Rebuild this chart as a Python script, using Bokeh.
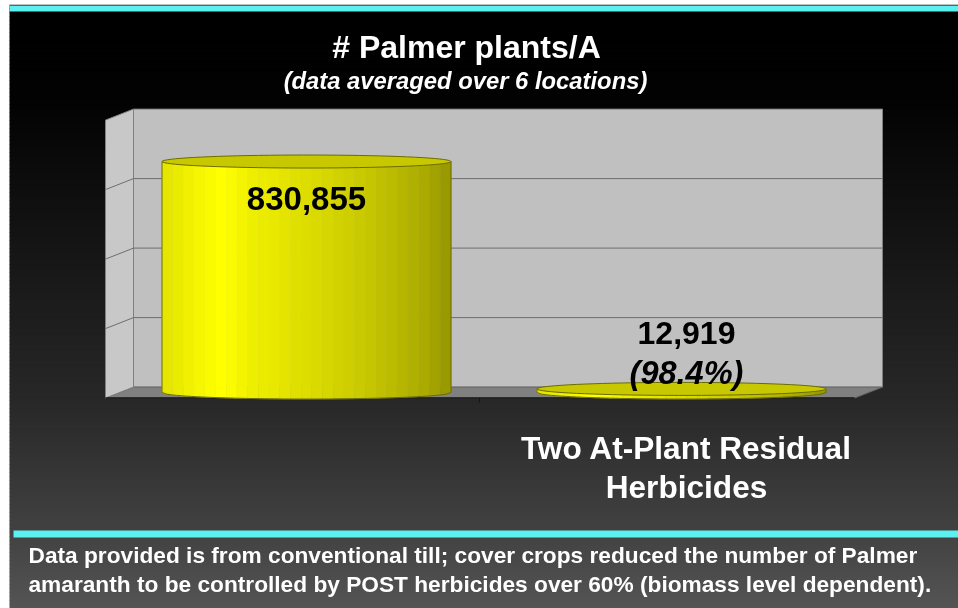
import numpy as np
from bokeh.plotting import figure
from bokeh.models import Range1d
from bokeh.core.properties import value
from bokeh.embed import file_html
from bokeh.resources import INLINE

# ---- data ----
categories = ["", "Two At-Plant Residual\nHerbicides"]
plants = [830855, 12919]
value_labels = ["830,855", "12,919"]
reduction_label = "(98.4%)"
grid_values = [0, 250000, 500000, 750000, 1000000]
title_text = "# Palmer plants/A"
subtitle_text = "(data averaged over 6 locations)"
footer_lines = [
    "Data provided is from conventional till; cover crops reduced the number of Palmer",
    "amaranth to be controlled by POST herbicides over 60% (biomass level dependent).",
]
strip_colors = ["#e6e600", "#ebeb00", "#f0f000", "#f6f600", "#fbfb00", "#ffff00", "#fafa00", "#f4f400",
                "#eeee00", "#ebeb00", "#e8e800", "#e4e400", "#e0e000", "#dddd00", "#dada00", "#d6d600",
                "#d2d200", "#cece00", "#caca00", "#c6c600", "#c0c000", "#bbbb00", "#b6b600", "#b0b000",
                "#aaaa00", "#a2a200", "#999900"]
bg_stops_y = [12, 100, 200, 300, 398, 520, 608]
bg_stops_v = [0, 3, 16, 28, 40, 64, 85]

# ---- layout ----
FIG_X, FIG_Y, W, H = 8, 4, 950, 604
CAT_X0, PX_PER_CAT = 306, 375.0
BASE_Y, PX_PER_VAL = 392, 278 / 1e6
BAR_W_PX, ELL_H = 289, 6.5

X = lambda px: (np.asarray(px, dtype=float) - CAT_X0) / PX_PER_CAT
Y = lambda py: (BASE_Y - np.asarray(py, dtype=float)) / PX_PER_VAL

p = figure(width=W, height=H, toolbar_location=None, output_backend="svg",
           x_range=Range1d(float(X(FIG_X)), float(X(FIG_X + W))),
           y_range=Range1d(float(Y(FIG_Y + H)), float(Y(FIG_Y))),
           min_border=0, outline_line_color=None, x_axis_type=None, y_axis_type=None)
p.grid.visible = False
p.background_fill_color = "#ffffff"
p.border_fill_color = None
p.styles = {"position": "fixed", "left": "8px", "top": "4px"}

# background gradient
rows = np.arange(FIG_Y, FIG_Y + H, 4)
shades = np.interp(rows, bg_stops_y, bg_stops_v).astype(int)
p.quad(left=float(X(9)), right=float(X(FIG_X + W)), top=Y(rows), bottom=Y(rows + 4.5),
       fill_color=["#%02x%02x%02x" % (s, s, s) for s in shades], line_color=None)

# cyan rules
p.quad(left=[float(X(9)), float(X(13))], right=float(X(958)), top=Y([5, 530]), bottom=Y([11, 537]),
       fill_color="#5cf0f0", line_color=None)

# 3-D box
WL, WR, FL, FR = 133, 882, 105, 854
back_y = lambda v: Y(386.6) + np.asarray(v, dtype=float)
front_y = lambda v: Y(397.6) + np.asarray(v, dtype=float)
top_val = grid_values[-1]
p.patch(X([WL, WR, WR, WL]), [back_y(0), back_y(0), back_y(top_val), back_y(top_val)],
        fill_color="#c0c0c0", line_color="#808080", line_width=1)
p.patch(X([FL, FR, WR, WL]), [front_y(0), front_y(0), back_y(0), back_y(0)],
        fill_color="#808080", line_color="#666666", line_width=1)
p.patch(X([FL, WL, WL, FL]), [front_y(0), back_y(0), back_y(top_val), front_y(top_val)],
        fill_color="#c8c8c8", line_color="#808080", line_width=1)
for v in grid_values[1:-1]:
    p.line(X([FL, WL, WR]), [front_y(v), back_y(v), back_y(v)], line_color="#6e6e6e", line_width=1)
p.line(X([FL, FR]), [front_y(0), front_y(0)], line_color="#141414", line_width=1.5)
p.line(X([479, 479]), [front_y(0), Y(402)], line_color="#141414", line_width=1)

# cylinders
half_w = BAR_W_PX / 2 / PX_PER_CAT
ell_v = ELL_H / PX_PER_VAL
t = np.linspace(0, 2 * np.pi, 80)
for i, v in enumerate(plants):
    edges = np.linspace(-1, 1, len(strip_colors) + 1)
    for c, a, b in zip(strip_colors, edges[:-1], edges[1:]):
        u = np.linspace(a, b, 6)
        low = -ell_v * np.sqrt(np.clip(1 - u ** 2, 0, 1))
        p.patch(np.r_[i + u * half_w, i + b * half_w, i + a * half_w],
                np.r_[low, v, v], fill_color=c, line_color=c, line_width=0.5)
    u = np.linspace(-1, 1, 60)
    low = -ell_v * np.sqrt(1 - u ** 2)
    p.line(np.r_[i - half_w, i + u * half_w, i + half_w], np.r_[v, low, v], line_color="#6b6b00", line_width=1)
    p.patch(i + half_w * np.cos(t), v + ell_v * np.sin(t), fill_color="#c8c800", line_color="#6b6b00", line_width=1)


def label(px, py, s, size, color="#000000", align="center", style="bold"):
    p.text(x=[float(X(px))], y=[float(Y(py))], text=[s], text_color=color, text_align=align,
           text_font_size=size, text_font=value("Liberation Sans"), text_font_style=style,
           text_baseline="middle")


label(466, 46, title_text, "32px", "#ffffff")
label(465, 80, subtitle_text, "23.8px", "#ffffff", style="bold italic")
label(306, 198, value_labels[0], "33px")
label(686, 332, value_labels[1], "32px")
label(686, 372, reduction_label, "32.5px", style="bold italic")
for j, s in enumerate(categories[1].split("\n")):
    label(686, 447 + 39 * j, s, "31.6px", "#ffffff")
for j, s in enumerate(footer_lines):
    label(28, 554 + 29 * j, s, "22.7px", "#ffffff", align="left")

open("out.html", "w").write(file_html(p, INLINE))
